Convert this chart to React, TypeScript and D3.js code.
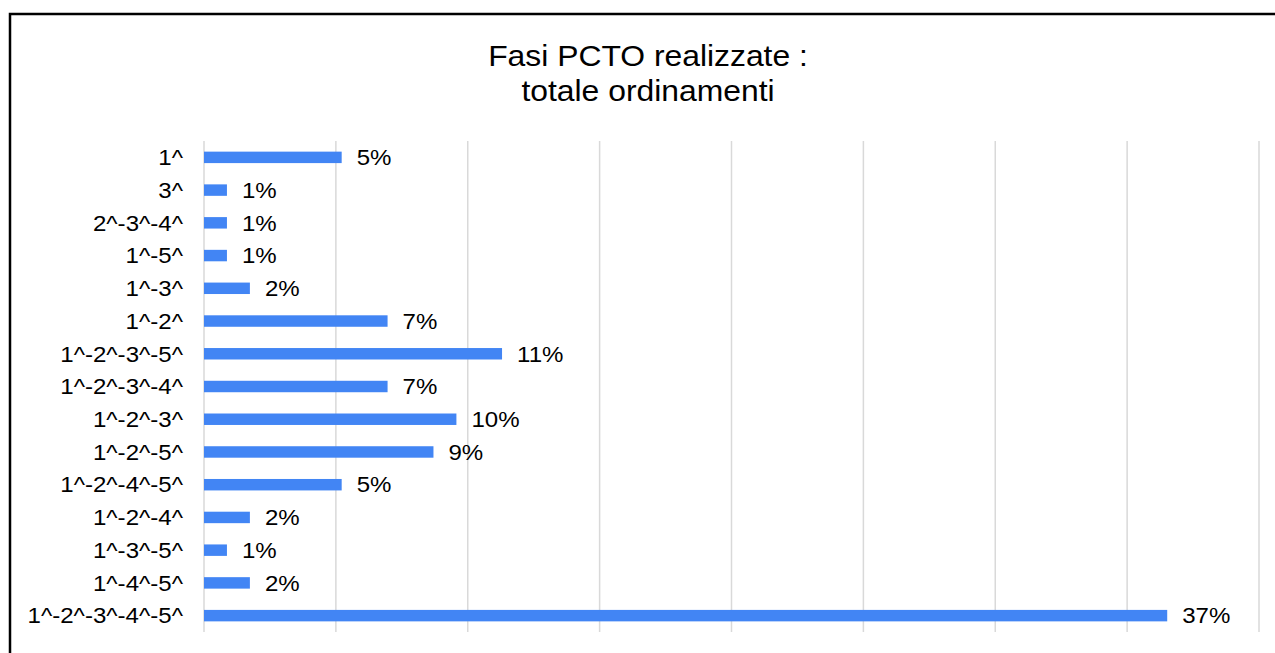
import React from 'react';
import * as d3 from 'd3';

const categories = [
  '1^', '3^', '2^-3^-4^', '1^-5^', '1^-3^', '1^-2^', '1^-2^-3^-5^', '1^-2^-3^-4^',
  '1^-2^-3^', '1^-2^-5^', '1^-2^-4^-5^', '1^-2^-4^', '1^-3^-5^', '1^-4^-5^', '1^-2^-3^-4^-5^',
];
// share of answers, in percent (labels show the rounded value)
const shares = [5.22, 0.87, 0.87, 0.87, 1.74, 6.96, 11.3, 6.96, 9.57, 8.7, 5.22, 1.74, 0.87, 1.74, 36.52];
const gridTicks = [0, 5, 10, 15, 20, 25, 30, 35, 40];
const titleLines = ['Fasi PCTO realizzate :', 'totale ordinamenti'];

const W = 1275;
const H = 653;
const FONT = '"Liberation Sans", Arial, sans-serif';
const SX = 1.12; // the source image is slightly stretched horizontally

const App: React.FC = () => {
  const x = d3.scaleLinear().domain([0, 40]).range([204, 1259]);
  const y = d3.scaleBand<string>()
    .domain(categories)
    .range([141, 632])
    .paddingInner(0.65)
    .paddingOuter(0.325);
  const bw = y.bandwidth();

  return (
    <svg
      width={W}
      height={H}
      viewBox={`0 0 ${W} ${H}`}
      style={{ position: 'absolute', left: 0, top: 0, background: '#fff' }}
    >
      <rect x={10} y={14} width={1300} height={700} fill="#fff" stroke="#000" strokeWidth={2.5} />

      {titleLines.map((t, i) => (
        <text
          key={t}
          transform={`translate(648, ${66 + i * 34.5}) scale(1.08, 1)`}
          textAnchor="middle"
          fontFamily={FONT}
          fontSize={29.5}
          fill="#000"
        >
          {t}
        </text>
      ))}

      {gridTicks.map(t => (
        <line
          key={t}
          x1={x(t)}
          x2={x(t)}
          y1={141}
          y2={632}
          stroke="#d9d9d9"
          strokeWidth={1.5}
        />
      ))}

      {categories.map((c, i) => {
        const yc = (y(c) ?? 0) + bw / 2;
        const v = shares[i];
        return (
          <g key={c}>
            <rect x={x(0)} y={yc - bw / 2} width={x(v) - x(0)} height={bw} fill="#4285f4" />
            <text
              transform={`translate(183, ${yc}) scale(${SX}, 1)`}
              textAnchor="end"
              dy="0.36em"
              fontFamily={FONT}
              fontSize={21.5}
              fill="#000"
            >
              {c}
            </text>
            <text
              transform={`translate(${x(v) + 15}, ${yc}) scale(${SX}, 1)`}
              textAnchor="start"
              dy="0.36em"
              fontFamily={FONT}
              fontSize={21.5}
              fill="#000"
            >
              {`${Math.round(v)}%`}
            </text>
          </g>
        );
      })}
    </svg>
  );
};

export default App;
